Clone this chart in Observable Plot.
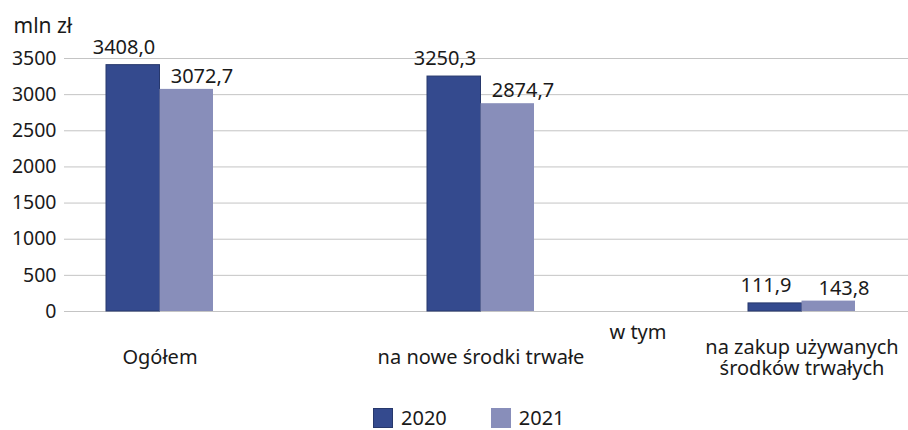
<!DOCTYPE html>
<html>
<head>
<meta charset="utf-8">
<script src="https://cdn.jsdelivr.net/npm/d3@7"></script>
<script src="https://cdn.jsdelivr.net/npm/@observablehq/plot@0.6"></script>
<style>
  html, body { margin: 0; padding: 0; background: #fff; overflow: hidden; }
  body { width: 908px; height: 430px; font-family: "Noto Sans", "Open Sans", sans-serif; color: #1a1a1a; }
  #legend { display: flex; align-items: center; box-sizing: border-box; height: 38px; padding-top: 14px; padding-left: 373px; font-size: 20px; }
  .item { display: flex; align-items: center; margin-right: 44px; }
  .item span { line-height: 20px; }
  .sw { width: 20px; height: 20px; margin-right: 8px; box-sizing: border-box; }
</style>
</head>
<body>
<div id="chart"></div>
<div id="legend"></div>
<script>
const categories = ["Ogółem", "na nowe środki trwałe", "na zakup używanych\nśrodków trwałych"];
const years = ["2020", "2021"];
const values2020 = [3408.0, 3250.3, 111.9];
const values2021 = [3072.7, 2874.7, 143.8];
const yTicks = [0, 500, 1000, 1500, 2000, 2500, 3000, 3500];
const unitLabel = "mln zł";
const betweenLabel = "w tym";
const colors = ["#344a8e", "#888eba"];

const fmt = v => v.toFixed(1).replace(".", ",");
const d2020 = categories.map((c, i) => ({cat: c, year: years[0], value: values2020[i]}));
const d2021 = categories.map((c, i) => ({cat: c, year: years[1], value: values2021[i]}));

const font = "Noto Sans, Open Sans, sans-serif";

const plot = Plot.plot({
  width: 908,
  height: 392,
  marginLeft: 64,
  marginRight: 0,
  marginTop: 58,
  marginBottom: 81,
  style: {fontFamily: font, fontSize: "19px", color: "#1a1a1a", background: "white", display: "block"},
  x: {type: "band", domain: categories, range: [64, 896], paddingInner: 0.668, paddingOuter: 0.126, axis: null},
  y: {domain: [0, 3500], ticks: yTicks, tickFormat: d => String(d), label: null},
  marks: [
    Plot.gridY(yTicks, {stroke: "#c4c4c4", strokeOpacity: 1, strokeWidth: 1}),
    Plot.axisY(yTicks, {tickSize: 0, tickPadding: 8, fontSize: 19.5, label: null, tickFormat: d => String(d)}),
    Plot.barY(d2020, {x: "cat", y: "value", fill: colors[0], stroke: "#27386c", strokeWidth: 1, insetRight: 53.5}),
    Plot.barY(d2021, {x: "cat", y: "value", fill: colors[1], insetLeft: 53.5}),
    Plot.text(d2020, {x: "cat", y: "value", text: d => fmt(d.value), dx: -36, dy: -18, fontSize: 20, fill: "#1a1a1a"}),
    Plot.text(d2021, {x: "cat", y: "value", text: d => fmt(d.value), dx: 42, dy: -13, fontSize: 20, fill: "#1a1a1a"}),
    Plot.text(categories, {x: d => d, frameAnchor: "bottom", dy: 46, lineAnchor: "middle", fontSize: 20, lineHeight: 1.05, fill: "#1a1a1a"}),
    Plot.text([betweenLabel], {x: () => categories[1], frameAnchor: "bottom", dy: 21, dx: 157, lineAnchor: "middle", fontSize: 20, fill: "#1a1a1a"}),
    Plot.text([unitLabel], {frameAnchor: "top-left", dx: -51, dy: -32, textAnchor: "start", lineAnchor: "middle", fontSize: 21, fill: "#1a1a1a"})
  ]
});
document.getElementById("chart").appendChild(plot);

const legend = document.getElementById("legend");
years.forEach((y, i) => {
  const item = document.createElement("div");
  item.className = "item";
  const sw = document.createElement("div");
  sw.className = "sw";
  sw.style.background = colors[i];
  if (i === 0) sw.style.border = "1px solid #27386c";
  const t = document.createElement("span");
  t.textContent = y;
  item.appendChild(sw);
  item.appendChild(t);
  legend.appendChild(item);
});
</script>
</body>
</html>
